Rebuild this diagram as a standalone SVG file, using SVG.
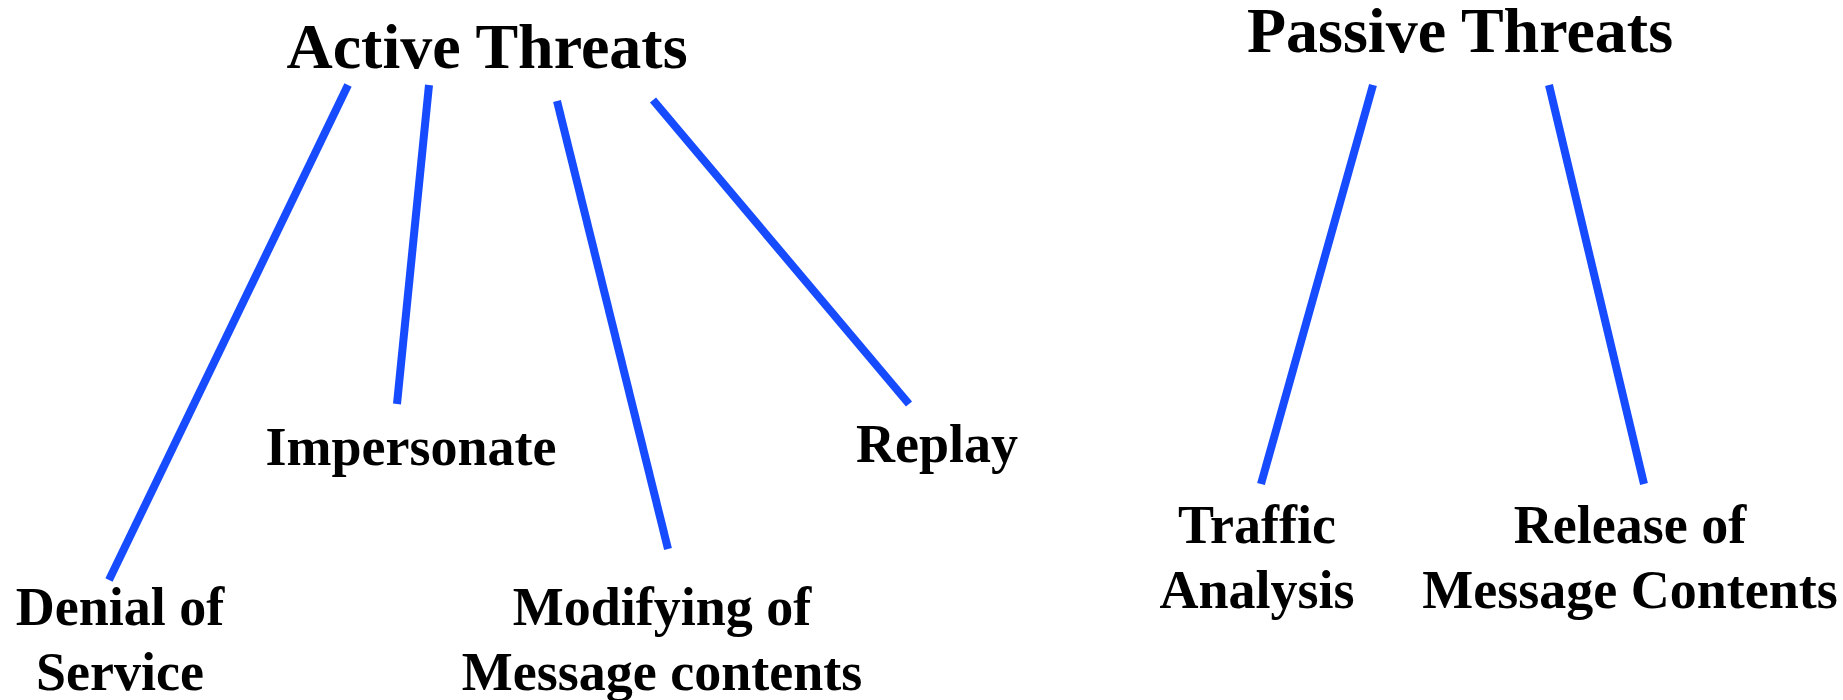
<svg xmlns="http://www.w3.org/2000/svg" width="1843" height="700" viewBox="0 0 1843 700">
<style>
.t{font-family:"Liberation Serif","Times New Roman",serif;font-weight:bold;fill:#000;text-anchor:middle}
.h{font-size:64px}
.l{font-size:54px}
.c{stroke:#164BFF;stroke-width:8;fill:none;stroke-linecap:butt}
</style>
<rect width="1843" height="700" fill="#fff"/>
<g id="active"><text class="t h" x="487" y="68">Active Threats</text></g>
<g id="passive"><text class="t h" x="1460" y="52">Passive Threats</text></g>
<g id="denial"><text class="t l" x="120" y="625">Denial of</text><text class="t l" x="120" y="690">Service</text></g>
<g id="impersonate"><text class="t l" x="411" y="465">Impersonate</text></g>
<g id="modifying"><text class="t l" x="662" y="625">Modifying of</text><text class="t l" x="662" y="690">Message contents</text></g>
<g id="replay"><text class="t l" x="937" y="462">Replay</text></g>
<g id="traffic"><text class="t l" x="1257" y="543">Traffic</text><text class="t l" x="1257" y="608">Analysis</text></g>
<g id="release"><text class="t l" x="1630" y="543">Release of</text><text class="t l" x="1630" y="608">Message Contents</text></g>
<g id="connectors">
<line class="c" x1="348" y1="85" x2="109" y2="580"/>
<line class="c" x1="429" y1="85" x2="397" y2="404"/>
<line class="c" x1="557" y1="101" x2="668" y2="549"/>
<line class="c" x1="653" y1="100" x2="909" y2="404"/>
<line class="c" x1="1373" y1="85" x2="1261" y2="484"/>
<line class="c" x1="1549" y1="85" x2="1644" y2="484"/>
</g>
</svg>
